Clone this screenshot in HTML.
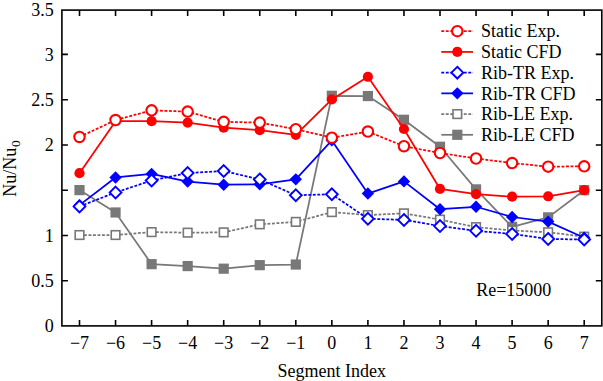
<!DOCTYPE html><html><head><meta charset="utf-8"><style>html,body{margin:0;padding:0;background:#fff;}svg{display:block;}text{font-family:"Liberation Serif",serif;fill:#000;}</style></head><body>
<svg width="603" height="381" viewBox="0 0 603 381">
<rect width="603" height="381" fill="#fff"/>
<path d="M79.50,325.9 V319.9 M79.50,10.1 V16.1 M115.55,325.9 V319.9 M115.55,10.1 V16.1 M151.60,325.9 V319.9 M151.60,10.1 V16.1 M187.65,325.9 V319.9 M187.65,10.1 V16.1 M223.70,325.9 V319.9 M223.70,10.1 V16.1 M259.75,325.9 V319.9 M259.75,10.1 V16.1 M295.80,325.9 V319.9 M295.80,10.1 V16.1 M331.85,325.9 V319.9 M331.85,10.1 V16.1 M367.90,325.9 V319.9 M367.90,10.1 V16.1 M403.95,325.9 V319.9 M403.95,10.1 V16.1 M440.00,325.9 V319.9 M440.00,10.1 V16.1 M476.05,325.9 V319.9 M476.05,10.1 V16.1 M512.10,325.9 V319.9 M512.10,10.1 V16.1 M548.15,325.9 V319.9 M548.15,10.1 V16.1 M584.20,325.9 V319.9 M584.20,10.1 V16.1 M61.9,280.74 H67.9 M601.8,280.74 H595.8 M61.9,235.47 H67.9 M601.8,235.47 H595.8 M61.9,190.20 H67.9 M601.8,190.20 H595.8 M61.9,144.94 H67.9 M601.8,144.94 H595.8 M61.9,99.68 H67.9 M601.8,99.68 H595.8 M61.9,54.41 H67.9 M601.8,54.41 H595.8" stroke="#000" stroke-width="1.6" fill="none"/>
<polyline points="79.50,190.11 115.55,212.48 151.60,264.17 187.65,266.07 223.70,268.69 259.75,265.16 295.80,264.53 331.85,95.78 367.90,96.05 403.95,119.77 440.00,146.75 476.05,189.39 512.10,226.87 548.15,217.36 584.20,190.20" fill="none" stroke="#787878" stroke-width="1.75" stroke-linejoin="round"/>
<rect x="74.40" y="185.01" width="10.2" height="10.2" fill="#787878"/>
<rect x="110.45" y="207.38" width="10.2" height="10.2" fill="#787878"/>
<rect x="146.50" y="259.07" width="10.2" height="10.2" fill="#787878"/>
<rect x="182.55" y="260.97" width="10.2" height="10.2" fill="#787878"/>
<rect x="218.60" y="263.59" width="10.2" height="10.2" fill="#787878"/>
<rect x="254.65" y="260.06" width="10.2" height="10.2" fill="#787878"/>
<rect x="290.70" y="259.43" width="10.2" height="10.2" fill="#787878"/>
<rect x="326.75" y="90.68" width="10.2" height="10.2" fill="#787878"/>
<rect x="362.80" y="90.95" width="10.2" height="10.2" fill="#787878"/>
<rect x="398.85" y="114.67" width="10.2" height="10.2" fill="#787878"/>
<rect x="434.90" y="141.65" width="10.2" height="10.2" fill="#787878"/>
<rect x="470.95" y="184.29" width="10.2" height="10.2" fill="#787878"/>
<rect x="507.00" y="221.77" width="10.2" height="10.2" fill="#787878"/>
<rect x="543.05" y="212.26" width="10.2" height="10.2" fill="#787878"/>
<rect x="579.10" y="185.10" width="10.2" height="10.2" fill="#787878"/>
<polyline points="79.50,235.02 115.55,235.02 151.60,232.12 187.65,232.66 223.70,232.39 259.75,224.33 295.80,221.89 331.85,212.11 367.90,215.10 403.95,213.38 440.00,219.63 476.05,227.14 512.10,230.49 548.15,232.30 584.20,236.65" fill="none" stroke="#787878" stroke-width="1.75" stroke-dasharray="2.9,1.6" stroke-linejoin="round"/>
<rect x="75.20" y="230.72" width="8.6" height="8.6" fill="#fff" stroke="#787878" stroke-width="1.6"/>
<rect x="111.25" y="230.72" width="8.6" height="8.6" fill="#fff" stroke="#787878" stroke-width="1.6"/>
<rect x="147.30" y="227.82" width="8.6" height="8.6" fill="#fff" stroke="#787878" stroke-width="1.6"/>
<rect x="183.35" y="228.36" width="8.6" height="8.6" fill="#fff" stroke="#787878" stroke-width="1.6"/>
<rect x="219.40" y="228.09" width="8.6" height="8.6" fill="#fff" stroke="#787878" stroke-width="1.6"/>
<rect x="255.45" y="220.03" width="8.6" height="8.6" fill="#fff" stroke="#787878" stroke-width="1.6"/>
<rect x="291.50" y="217.59" width="8.6" height="8.6" fill="#fff" stroke="#787878" stroke-width="1.6"/>
<rect x="327.55" y="207.81" width="8.6" height="8.6" fill="#fff" stroke="#787878" stroke-width="1.6"/>
<rect x="363.60" y="210.80" width="8.6" height="8.6" fill="#fff" stroke="#787878" stroke-width="1.6"/>
<rect x="399.65" y="209.08" width="8.6" height="8.6" fill="#fff" stroke="#787878" stroke-width="1.6"/>
<rect x="435.70" y="215.33" width="8.6" height="8.6" fill="#fff" stroke="#787878" stroke-width="1.6"/>
<rect x="471.75" y="222.84" width="8.6" height="8.6" fill="#fff" stroke="#787878" stroke-width="1.6"/>
<rect x="507.80" y="226.19" width="8.6" height="8.6" fill="#fff" stroke="#787878" stroke-width="1.6"/>
<rect x="543.85" y="228.00" width="8.6" height="8.6" fill="#fff" stroke="#787878" stroke-width="1.6"/>
<rect x="579.90" y="232.35" width="8.6" height="8.6" fill="#fff" stroke="#787878" stroke-width="1.6"/>
<polyline points="79.50,205.14 115.55,177.44 151.60,173.91 187.65,181.60 223.70,184.68 259.75,184.32 295.80,179.34 331.85,140.41 367.90,193.55 403.95,181.42 440.00,209.22 476.05,206.77 512.10,217.00 548.15,221.62 584.20,237.73" fill="none" stroke="#0000ff" stroke-width="1.75" stroke-linejoin="round"/>
<path d="M79.50,198.94 L85.70,205.14 L79.50,211.34 L73.30,205.14 Z" fill="#0000ff"/>
<path d="M115.55,171.24 L121.75,177.44 L115.55,183.64 L109.35,177.44 Z" fill="#0000ff"/>
<path d="M151.60,167.71 L157.80,173.91 L151.60,180.11 L145.40,173.91 Z" fill="#0000ff"/>
<path d="M187.65,175.40 L193.85,181.60 L187.65,187.80 L181.45,181.60 Z" fill="#0000ff"/>
<path d="M223.70,178.48 L229.90,184.68 L223.70,190.88 L217.50,184.68 Z" fill="#0000ff"/>
<path d="M259.75,178.12 L265.95,184.32 L259.75,190.52 L253.55,184.32 Z" fill="#0000ff"/>
<path d="M295.80,173.14 L302.00,179.34 L295.80,185.54 L289.60,179.34 Z" fill="#0000ff"/>
<path d="M331.85,134.21 L338.05,140.41 L331.85,146.61 L325.65,140.41 Z" fill="#0000ff"/>
<path d="M367.90,187.35 L374.10,193.55 L367.90,199.75 L361.70,193.55 Z" fill="#0000ff"/>
<path d="M403.95,175.22 L410.15,181.42 L403.95,187.62 L397.75,181.42 Z" fill="#0000ff"/>
<path d="M440.00,203.02 L446.20,209.22 L440.00,215.42 L433.80,209.22 Z" fill="#0000ff"/>
<path d="M476.05,200.57 L482.25,206.77 L476.05,212.97 L469.85,206.77 Z" fill="#0000ff"/>
<path d="M512.10,210.80 L518.30,217.00 L512.10,223.20 L505.90,217.00 Z" fill="#0000ff"/>
<path d="M548.15,215.42 L554.35,221.62 L548.15,227.82 L541.95,221.62 Z" fill="#0000ff"/>
<path d="M584.20,231.53 L590.40,237.73 L584.20,243.93 L578.00,237.73 Z" fill="#0000ff"/>
<polyline points="79.50,206.41 115.55,192.47 151.60,180.52 187.65,173.00 223.70,171.01 259.75,179.43 295.80,195.27 331.85,194.28 367.90,218.72 403.95,219.90 440.00,226.05 476.05,230.85 512.10,233.93 548.15,238.91 584.20,239.54" fill="none" stroke="#0000ff" stroke-width="1.75" stroke-dasharray="2.9,1.6" stroke-linejoin="round"/>
<path d="M79.50,200.51 L85.40,206.41 L79.50,212.31 L73.60,206.41 Z" fill="#fff" stroke="#0000ff" stroke-width="1.9"/>
<path d="M115.55,186.57 L121.45,192.47 L115.55,198.37 L109.65,192.47 Z" fill="#fff" stroke="#0000ff" stroke-width="1.9"/>
<path d="M151.60,174.62 L157.50,180.52 L151.60,186.42 L145.70,180.52 Z" fill="#fff" stroke="#0000ff" stroke-width="1.9"/>
<path d="M187.65,167.10 L193.55,173.00 L187.65,178.90 L181.75,173.00 Z" fill="#fff" stroke="#0000ff" stroke-width="1.9"/>
<path d="M223.70,165.11 L229.60,171.01 L223.70,176.91 L217.80,171.01 Z" fill="#fff" stroke="#0000ff" stroke-width="1.9"/>
<path d="M259.75,173.53 L265.65,179.43 L259.75,185.33 L253.85,179.43 Z" fill="#fff" stroke="#0000ff" stroke-width="1.9"/>
<path d="M295.80,189.37 L301.70,195.27 L295.80,201.17 L289.90,195.27 Z" fill="#fff" stroke="#0000ff" stroke-width="1.9"/>
<path d="M331.85,188.38 L337.75,194.28 L331.85,200.18 L325.95,194.28 Z" fill="#fff" stroke="#0000ff" stroke-width="1.9"/>
<path d="M367.90,212.82 L373.80,218.72 L367.90,224.62 L362.00,218.72 Z" fill="#fff" stroke="#0000ff" stroke-width="1.9"/>
<path d="M403.95,214.00 L409.85,219.90 L403.95,225.80 L398.05,219.90 Z" fill="#fff" stroke="#0000ff" stroke-width="1.9"/>
<path d="M440.00,220.15 L445.90,226.05 L440.00,231.95 L434.10,226.05 Z" fill="#fff" stroke="#0000ff" stroke-width="1.9"/>
<path d="M476.05,224.95 L481.95,230.85 L476.05,236.75 L470.15,230.85 Z" fill="#fff" stroke="#0000ff" stroke-width="1.9"/>
<path d="M512.10,228.03 L518.00,233.93 L512.10,239.83 L506.20,233.93 Z" fill="#fff" stroke="#0000ff" stroke-width="1.9"/>
<path d="M548.15,233.01 L554.05,238.91 L548.15,244.81 L542.25,238.91 Z" fill="#fff" stroke="#0000ff" stroke-width="1.9"/>
<path d="M584.20,233.64 L590.10,239.54 L584.20,245.44 L578.30,239.54 Z" fill="#fff" stroke="#0000ff" stroke-width="1.9"/>
<polyline points="79.50,173.19 115.55,121.22 151.60,121.13 187.65,122.58 223.70,127.74 259.75,130.18 295.80,134.80 331.85,99.40 367.90,76.77 403.95,129.01 440.00,188.94 476.05,194.19 512.10,196.72 548.15,196.27 584.20,190.20" fill="none" stroke="#ff0000" stroke-width="1.75" stroke-linejoin="round"/>
<circle cx="79.50" cy="173.19" r="5.1" fill="#ff0000"/>
<circle cx="115.55" cy="121.22" r="5.1" fill="#ff0000"/>
<circle cx="151.60" cy="121.13" r="5.1" fill="#ff0000"/>
<circle cx="187.65" cy="122.58" r="5.1" fill="#ff0000"/>
<circle cx="223.70" cy="127.74" r="5.1" fill="#ff0000"/>
<circle cx="259.75" cy="130.18" r="5.1" fill="#ff0000"/>
<circle cx="295.80" cy="134.80" r="5.1" fill="#ff0000"/>
<circle cx="331.85" cy="99.40" r="5.1" fill="#ff0000"/>
<circle cx="367.90" cy="76.77" r="5.1" fill="#ff0000"/>
<circle cx="403.95" cy="129.01" r="5.1" fill="#ff0000"/>
<circle cx="440.00" cy="188.94" r="5.1" fill="#ff0000"/>
<circle cx="476.05" cy="194.19" r="5.1" fill="#ff0000"/>
<circle cx="512.10" cy="196.72" r="5.1" fill="#ff0000"/>
<circle cx="548.15" cy="196.27" r="5.1" fill="#ff0000"/>
<circle cx="584.20" cy="190.20" r="5.1" fill="#ff0000"/>
<polyline points="79.50,136.97 115.55,120.04 151.60,110.36 187.65,111.62 223.70,121.85 259.75,122.58 295.80,129.19 331.85,137.70 367.90,131.54 403.95,146.21 440.00,153.00 476.05,158.52 512.10,163.05 548.15,166.67 584.20,166.31" fill="none" stroke="#ff0000" stroke-width="1.75" stroke-dasharray="2.9,1.6" stroke-linejoin="round"/>
<circle cx="79.50" cy="136.97" r="5.2" fill="#fff" stroke="#ff0000" stroke-width="2.1"/>
<circle cx="115.55" cy="120.04" r="5.2" fill="#fff" stroke="#ff0000" stroke-width="2.1"/>
<circle cx="151.60" cy="110.36" r="5.2" fill="#fff" stroke="#ff0000" stroke-width="2.1"/>
<circle cx="187.65" cy="111.62" r="5.2" fill="#fff" stroke="#ff0000" stroke-width="2.1"/>
<circle cx="223.70" cy="121.85" r="5.2" fill="#fff" stroke="#ff0000" stroke-width="2.1"/>
<circle cx="259.75" cy="122.58" r="5.2" fill="#fff" stroke="#ff0000" stroke-width="2.1"/>
<circle cx="295.80" cy="129.19" r="5.2" fill="#fff" stroke="#ff0000" stroke-width="2.1"/>
<circle cx="331.85" cy="137.70" r="5.2" fill="#fff" stroke="#ff0000" stroke-width="2.1"/>
<circle cx="367.90" cy="131.54" r="5.2" fill="#fff" stroke="#ff0000" stroke-width="2.1"/>
<circle cx="403.95" cy="146.21" r="5.2" fill="#fff" stroke="#ff0000" stroke-width="2.1"/>
<circle cx="440.00" cy="153.00" r="5.2" fill="#fff" stroke="#ff0000" stroke-width="2.1"/>
<circle cx="476.05" cy="158.52" r="5.2" fill="#fff" stroke="#ff0000" stroke-width="2.1"/>
<circle cx="512.10" cy="163.05" r="5.2" fill="#fff" stroke="#ff0000" stroke-width="2.1"/>
<circle cx="548.15" cy="166.67" r="5.2" fill="#fff" stroke="#ff0000" stroke-width="2.1"/>
<circle cx="584.20" cy="166.31" r="5.2" fill="#fff" stroke="#ff0000" stroke-width="2.1"/>
<rect x="61.9" y="10.1" width="539.90" height="315.80" fill="none" stroke="#000" stroke-width="1.6"/>
<text x="53.8" y="332.40" font-size="18" text-anchor="end">0</text>
<text x="53.8" y="287.13" font-size="18" text-anchor="end">0.5</text>
<text x="53.8" y="241.87" font-size="18" text-anchor="end">1</text>
<text x="53.8" y="151.34" font-size="18" text-anchor="end">2</text>
<text x="53.8" y="106.08" font-size="18" text-anchor="end">2.5</text>
<text x="53.8" y="60.81" font-size="18" text-anchor="end">3</text>
<text x="53.8" y="15.54" font-size="18" text-anchor="end">3.5</text>
<text x="79.50" y="349" font-size="18" text-anchor="middle">−7</text>
<text x="115.55" y="349" font-size="18" text-anchor="middle">−6</text>
<text x="151.60" y="349" font-size="18" text-anchor="middle">−5</text>
<text x="187.65" y="349" font-size="18" text-anchor="middle">−4</text>
<text x="223.70" y="349" font-size="18" text-anchor="middle">−3</text>
<text x="259.75" y="349" font-size="18" text-anchor="middle">−2</text>
<text x="295.80" y="349" font-size="18" text-anchor="middle">−1</text>
<text x="331.85" y="349" font-size="18" text-anchor="middle">0</text>
<text x="367.90" y="349" font-size="18" text-anchor="middle">1</text>
<text x="403.95" y="349" font-size="18" text-anchor="middle">2</text>
<text x="440.00" y="349" font-size="18" text-anchor="middle">3</text>
<text x="476.05" y="349" font-size="18" text-anchor="middle">4</text>
<text x="512.10" y="349" font-size="18" text-anchor="middle">5</text>
<text x="548.15" y="349" font-size="18" text-anchor="middle">6</text>
<text x="584.20" y="349" font-size="18" text-anchor="middle">7</text>
<text x="331.8" y="376.7" font-size="18" text-anchor="middle">Segment Index</text>
<text transform="translate(16.3,168.5) rotate(-90)" font-size="18" text-anchor="middle">Nu/Nu<tspan font-size="13.5" dx="0.6" dy="4.1">0</tspan></text>
<text x="476.2" y="295.6" font-size="18">Re=15000</text>
<line x1="441.3" y1="31.20" x2="473.0" y2="31.20" stroke="#ff0000" stroke-width="1.75" stroke-dasharray="2.9,1.6"/>
<circle cx="457.30" cy="31.20" r="5.2" fill="#fff" stroke="#ff0000" stroke-width="2.1"/>
<text x="481.0" y="37.40" font-size="18">Static Exp.</text>
<line x1="441.3" y1="51.92" x2="473.0" y2="51.92" stroke="#ff0000" stroke-width="1.75"/>
<circle cx="457.30" cy="51.92" r="5.1" fill="#ff0000"/>
<text x="481.0" y="58.12" font-size="18">Static CFD</text>
<line x1="441.3" y1="72.64" x2="473.0" y2="72.64" stroke="#0000ff" stroke-width="1.75" stroke-dasharray="2.9,1.6"/>
<path d="M457.30,66.74 L463.20,72.64 L457.30,78.54 L451.40,72.64 Z" fill="#fff" stroke="#0000ff" stroke-width="1.9"/>
<text x="481.0" y="78.84" font-size="18">Rib-TR Exp.</text>
<line x1="441.3" y1="93.36" x2="473.0" y2="93.36" stroke="#0000ff" stroke-width="1.75"/>
<path d="M457.30,87.16 L463.50,93.36 L457.30,99.56 L451.10,93.36 Z" fill="#0000ff"/>
<text x="481.0" y="99.56" font-size="18">Rib-TR CFD</text>
<line x1="441.3" y1="114.08" x2="473.0" y2="114.08" stroke="#787878" stroke-width="1.75" stroke-dasharray="2.9,1.6"/>
<rect x="453.00" y="109.78" width="8.6" height="8.6" fill="#fff" stroke="#787878" stroke-width="1.6"/>
<text x="481.0" y="120.28" font-size="18">Rib-LE Exp.</text>
<line x1="441.3" y1="134.80" x2="473.0" y2="134.80" stroke="#787878" stroke-width="1.75"/>
<rect x="452.20" y="129.70" width="10.2" height="10.2" fill="#787878"/>
<text x="481.0" y="141.00" font-size="18">Rib-LE CFD</text>
</svg></body></html>
